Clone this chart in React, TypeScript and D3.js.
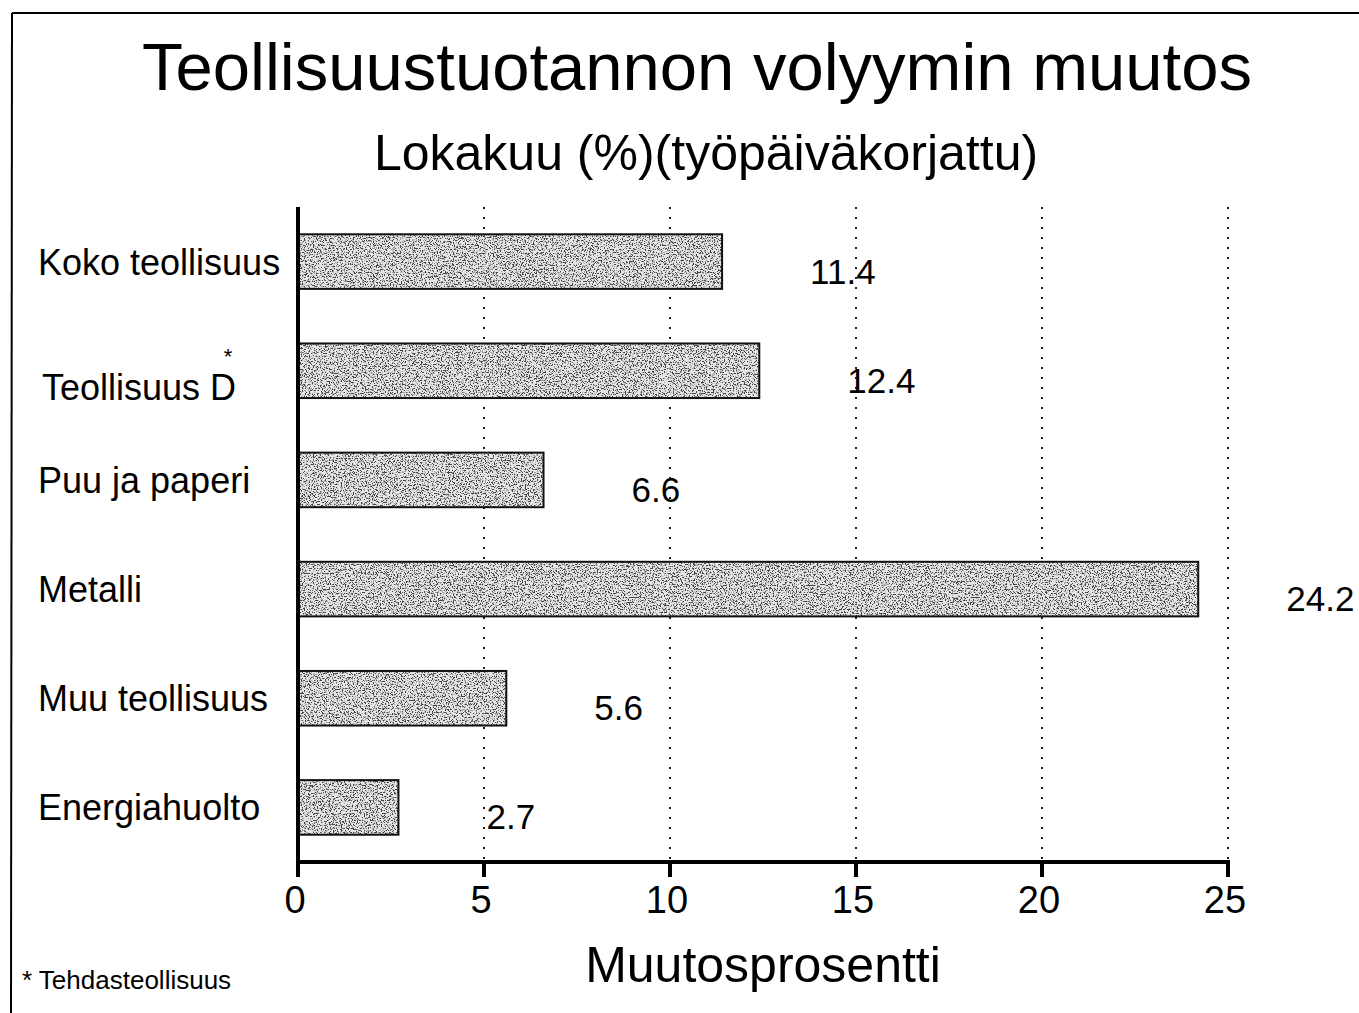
import * as d3 from "d3";

const categories = [
  "Koko teollisuus",
  "Teollisuus D",
  "Puu ja paperi",
  "Metalli",
  "Muu teollisuus",
  "Energiahuolto",
];
const values = [11.4, 12.4, 6.6, 24.2, 5.6, 2.7];
const footnoted = ["Teollisuus D"];
const xTicks = [0, 5, 10, 15, 20, 25];

const title = "Teollisuustuotannon volyymin muutos";
const subtitle = "Lokakuu (%)(työpäiväkorjattu)";
const xTitle = "Muutosprosentti";
const footnote = "* Tehdasteollisuus";

const width = 1359;
const height = 1013;
const margin = { top: 207, right: 131, bottom: 151, left: 298 };
const font = "'Liberation Sans', Arial, Helvetica, sans-serif";

export default function App() {
  const x = d3
    .scaleLinear()
    .domain([0, 25])
    .range([margin.left, width - margin.right]);
  const y = d3
    .scaleBand<string>()
    .domain(categories)
    .range([margin.top, height - margin.bottom])
    .paddingInner(0.5)
    .paddingOuter(0.25);
  const axisY = height - margin.bottom;

  return (
    <svg
      width={width}
      height={height}
      style={{ position: "absolute", left: 0, top: 0, background: "#fff" }}
      fontFamily={font}
    >
      <defs>
        {/* speckled grey print texture for the bars */}
        <filter id="stipple" x="0" y="0" width="1" height="1">
          <feTurbulence type="fractalNoise" baseFrequency="0.75" numOctaves="2" seed="7" result="noise" />
          <feColorMatrix
            in="noise"
            type="matrix"
            values="0 0 0 0 0  0 0 0 0 0  0 0 0 0 0  3 0 0 0 -1"
            result="spread"
          />
          <feComponentTransfer in="spread" result="dots">
            <feFuncA type="discrete" tableValues="0.7 0.3 0 0 0" />
          </feComponentTransfer>
          <feComposite in="dots" in2="SourceGraphic" operator="in" />
        </filter>
      </defs>

      {/* frame */}
      <line x1={12} x2={width} y1={13} y2={13} stroke="#000" strokeWidth={2} />
      <line x1={12} x2={11} y1={13} y2={height} stroke="#000" strokeWidth={2} />

      <text x={697} y={90} textAnchor="middle" fontSize={67}>
        {title}
      </text>
      <text x={706} y={170} textAnchor="middle" fontSize={50}>
        {subtitle}
      </text>

      {/* dotted gridlines */}
      {xTicks.slice(1).map((t) => (
        <line
          key={"g" + t}
          x1={x(t)}
          x2={x(t)}
          y1={margin.top}
          y2={axisY}
          stroke="#222"
          strokeWidth={2}
          strokeDasharray="2 8"
        />
      ))}

      {/* bars */}
      {categories.map((c, i) => {
        const by = y(c) as number;
        const w = x(values[i]) - x(0);
        return (
          <g key={c}>
            <rect x={x(0)} y={by} width={w} height={y.bandwidth()} fill="#e4e4e4" />
            <rect
              x={x(0)}
              y={by}
              width={w}
              height={y.bandwidth()}
              fill="#555"
              filter="url(#stipple)"
            />
            <rect
              x={x(0)}
              y={by}
              width={w}
              height={y.bandwidth()}
              fill="none"
              stroke="#111"
              strokeWidth={2}
            />
            <text
              x={x(values[i]) + 88}
              y={by + y.bandwidth() / 2 + 22}
              fontSize={35}
            >
              {values[i].toFixed(1)}
            </text>
          </g>
        );
      })}

      {/* category labels */}
      {categories.map((c) => {
        const cy = (y(c) as number) + y.bandwidth() / 2;
        const isNote = footnoted.includes(c);
        return (
          <text key={"l" + c} x={isNote ? 42 : 38} y={cy + (isNote ? 29 : 13)} fontSize={36}>
            {c}
          </text>
        );
      })}
      {categories
        .filter((c) => footnoted.includes(c))
        .map((c) => (
          <text
            key={"n" + c}
            x={228}
            y={(y(c) as number) + y.bandwidth() / 2 - 7}
            textAnchor="middle"
            fontSize={22}
          >
            *
          </text>
        ))}

      {/* axes */}
      <line x1={x(0)} x2={x(0)} y1={margin.top} y2={axisY + 2} stroke="#000" strokeWidth={4} />
      <line x1={x(0) - 2} x2={x(25) + 2} y1={axisY} y2={axisY} stroke="#000" strokeWidth={4} />
      {xTicks.map((t) => (
        <g key={"t" + t}>
          <line x1={x(t)} x2={x(t)} y1={axisY} y2={axisY + 15} stroke="#000" strokeWidth={4} />
          <text x={x(t) - 3} y={913} textAnchor="middle" fontSize={38}>
            {t}
          </text>
        </g>
      ))}

      <text x={(x(0) + x(25)) / 2} y={982} textAnchor="middle" fontSize={50}>
        {xTitle}
      </text>
      <text x={22} y={989} fontSize={26}>
        {footnote}
      </text>
    </svg>
  );
}
